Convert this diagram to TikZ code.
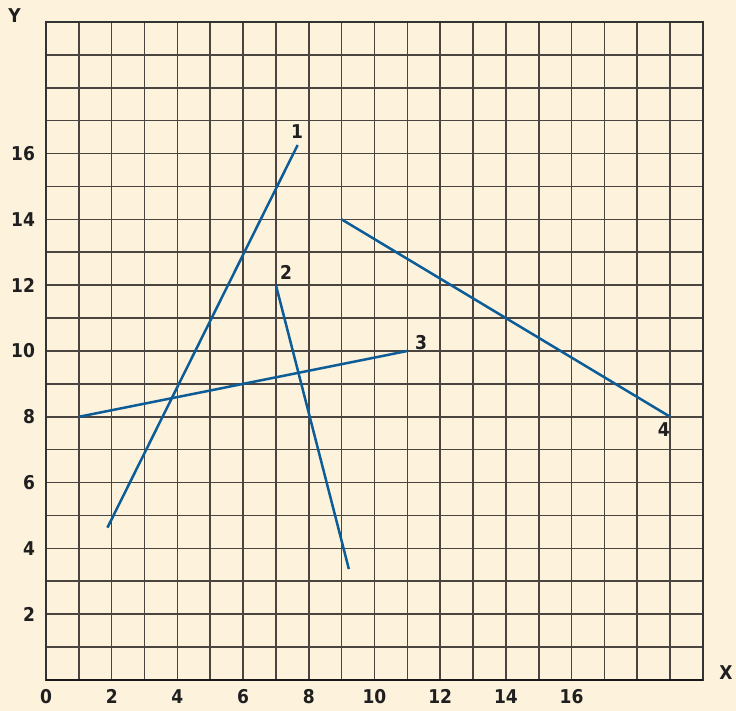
\documentclass[tikz,border=0pt]{standalone}
\usepackage{fontspec}
\newfontfamily\lblfont{DejaVu Sans Condensed}
\definecolor{bgc}{HTML}{FDF2DC}
\definecolor{gridc}{HTML}{4A4541}
\definecolor{linec}{HTML}{0B5C97}
\begin{document}
\begin{tikzpicture}[x=32.85pt,y=32.9pt,
  lbl/.style={font=\fontsize{19}{22}\lblfont\bfseries, text=black!88, inner sep=0pt},
  seg/.style={draw=linec, line width=2.5pt},
  gridline/.style={draw=gridc, line width=1.6pt}]
\fill[bgc] (-1.4003,-0.9422) rectangle (21.005,20.669);
\useasboundingbox (-1.4003,-0.9422) rectangle (21.005,20.669);
% grid
\foreach \i in {1,...,19} {
  \draw[gridline] (\i,0) -- (\i,20);
  \draw[gridline] (0,\i) -- (20,\i);
}
\draw[draw=black!80, line width=2.2pt] (0,0) rectangle (20,20);
\draw[draw=black!90, line width=2.6pt] (0,0) -- (20,0);
% tick labels
\foreach \v in {2,4,...,16} {
  \node[lbl, anchor=east] (yl\v) at (-0.33,\v) {\v};
}
\foreach \v in {0,2,...,16} {
  \node[lbl] (xl\v) at (\v,-0.49) {\v};
}
\node[lbl] (xax) at (20.7,0.22) {X};
\node[lbl] (yax) at (-0.96,20.21) {Y};
% line endpoints
\coordinate (a1) at (1.87,4.63);
\coordinate (b1) at (7.66,16.26);
\coordinate (a2) at (7,12);
\coordinate (b2) at (9.22,3.37);
\coordinate (a3) at (1,8);
\coordinate (b3) at (11,10);
\coordinate (a4) at (9,14);
\coordinate (b4) at (19,8);
\draw[seg] (a1) -- (b1);
\draw[seg] (a2) -- (b2);
\draw[seg] (a3) -- (b3);
\draw[seg] (a4) -- (b4);
\node[lbl] (n1) at (7.64,16.66) {1};
\node[lbl] (n2) at (7.31,12.4) {2};
\node[lbl] (n3) at (11.42,10.27) {3};
\node[lbl] (n4) at (18.81,7.6) {4};
\end{tikzpicture}
\end{document}
